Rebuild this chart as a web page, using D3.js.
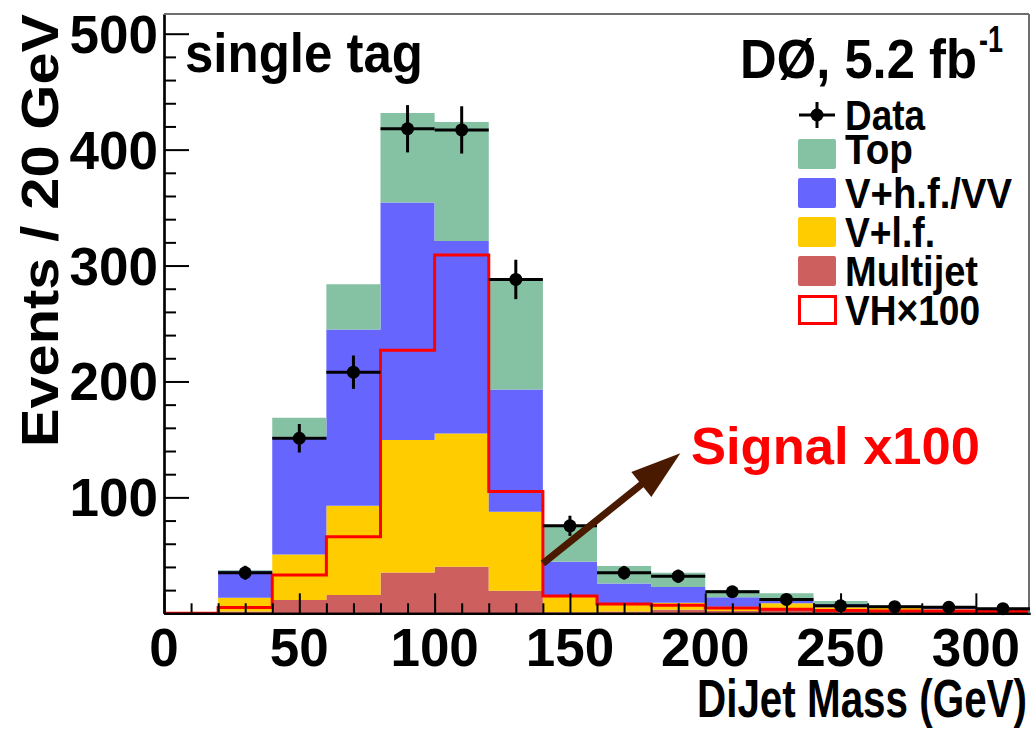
<!DOCTYPE html>
<html>
<head>
<meta charset="utf-8">
<script src="https://cdn.jsdelivr.net/npm/d3@7"></script>
<style>
  body { margin: 0; background: #fff; }
  svg { display: block; }
  text { font-family: "Liberation Sans", Arial, Helvetica, sans-serif; font-weight: bold; fill: #000; }
</style>
</head>
<body>
<svg id="chart" width="1032" height="729"></svg>
<script>
// Di-jet mass, single tag sample, 20 GeV bins (lower edges)
const binStart = [0, 20, 40, 60, 80, 100, 120, 140, 160, 180, 200, 220, 240, 260, 280, 300];
const binWidth = 20;

// Background expectations per bin (events)
const multijet = [0, 1.5, 11.5, 15.8, 35.3, 40.2, 19.5, 1.0, 1.5, 3.0, 2.0, 3.0, 2.0, 2.5, 3.4, 2.8];
const vlf      = [0, 11.9, 39.3, 77.0, 114.1, 115.0, 68.1, 13.3, 6.0, 6.0, 3.7, 5.6, 3.2, 2.7, 0.4, 0.7];
const vhf      = [0, 23.2, 101.4, 152.0, 204.9, 166.0, 105.5, 30.2, 18.3, 13.7, 8.1, 4.3, 2.8, 1.1, 1.6, 0.8];
const topBkg   = [0, 0.7, 16.4, 39.1, 77.3, 102.6, 95.7, 31.6, 15.0, 12.3, 6.2, 4.3, 2.6, 0.6, 0.9, 0.5];

// Observed events and their uncertainties
const dataVals = [null, 35, 151, 208, 418, 417, 288, 75.5, 35, 32, 18.6, 12, 6.5, 5.7, 5.2, 4];
const dataErr  = [null, 6, 12.3, 14.4, 20.4, 20.4, 17, 8.7, 5.9, 5.7, 4.3, 3.5, 2.5, 2.4, 2.3, 2];

// VH signal scaled by 100
const signal100 = [0, 5, 33, 66, 227, 309, 105, 15, 8, 7, 4.5, 3.5, 2.5, 2, 1.8, 1.5];

const xMajor = [0, 50, 100, 150, 200, 250, 300];
const xMinor = [10, 20, 30, 40, 60, 70, 80, 90, 110, 120, 130, 140, 160, 170, 180, 190, 210, 220, 230, 240, 260, 270, 280, 290, 310];
const yMajor = [100, 200, 300, 400, 500];
const yMinor = [20, 40, 60, 80, 120, 140, 160, 180, 220, 240, 260, 280, 320, 340, 360, 380, 420, 440, 460, 480];

const legendItems = [
  { key: "data", label: "Data", width: 80 },
  { key: "top", label: "Top", width: 68, color: "#85c1a3" },
  { key: "vhf", label: "V+h.f./VV", width: 167, color: "#6666ff" },
  { key: "vlf", label: "V+l.f.", width: 90, color: "#ffcc00" },
  { key: "multijet", label: "Multijet", width: 133, color: "#cd5f5f" },
  { key: "signal", label: "VH\u00d7100", width: 135 }
];

const colors = { multijet: "#cd5f5f", vlf: "#ffcc00", vhf: "#6666ff", top: "#85c1a3" };
const signalColor = "#ff0000";
const arrowColor = "#4a1a00";

// Plot frame
const left = 164, right = 1030, topY = 14, bottom = 613.3;
const x = d3.scaleLinear().domain([0, 320]).range([left, right]);
const y = d3.scaleLinear().domain([0, 517]).range([bottom, topY]);

const svg = d3.select("#chart");

// Stacked backgrounds
const rows = binStart.map((s, i) => ({
  start: s, multijet: multijet[i], vlf: vlf[i], vhf: vhf[i], top: topBkg[i]
}));
const keys = ["multijet", "vlf", "vhf", "top"];
const stacked = d3.stack().keys(keys)(rows);

const area = d3.area()
  .curve(d3.curveStepAfter)
  .x(d => x(d.x))
  .y0(d => y(d.y0))
  .y1(d => y(d.y1));

const g = svg.append("g");
stacked.forEach(layer => {
  const pts = layer.map((d, i) => ({ x: binStart[i], y0: d[0], y1: d[1] }));
  const last = pts[pts.length - 1];
  pts.push({ x: last.x + binWidth, y0: last.y0, y1: last.y1 });
  g.append("path")
    .attr("d", area(pts))
    .attr("fill", colors[layer.key]);
});

// Signal outline
const sigPts = binStart.map((s, i) => [s, signal100[i]]);
sigPts.push([binStart[binStart.length - 1] + binWidth, signal100[signal100.length - 1]]);
g.append("path")
  .attr("d", d3.line().curve(d3.curveStepAfter).x(d => x(d[0])).y(d => y(d[1]))(sigPts))
  .attr("fill", "none")
  .attr("stroke", signalColor)
  .attr("stroke-width", 3);

// Axes
const axisG = svg.append("g");
const yAxisMajor = d3.axisLeft(y).tickValues(yMajor).tickSizeInner(-25).tickSizeOuter(0).tickFormat("");
const yAxisMinor = d3.axisLeft(y).tickValues(yMinor).tickSizeInner(-12).tickSizeOuter(0).tickFormat("");
const xAxisMajor = d3.axisBottom(x).tickValues(xMajor).tickSizeInner(-20).tickSizeOuter(0).tickFormat("");
const xAxisMinor = d3.axisBottom(x).tickValues(xMinor).tickSizeInner(-10).tickSizeOuter(0).tickFormat("");

[
  [yAxisMajor, `translate(${left},0)`],
  [yAxisMinor, `translate(${left},0)`],
  [xAxisMajor, `translate(0,${bottom})`],
  [xAxisMinor, `translate(0,${bottom})`]
].forEach(([ax, tr]) => {
  const a = axisG.append("g").attr("transform", tr).call(ax);
  a.selectAll("path.domain").attr("stroke", "#000").attr("stroke-width", 2.2);
  a.selectAll(".tick line").attr("stroke", "#000").attr("stroke-width", 2);
});

// Frame top and right
axisG.append("line").attr("x1", left).attr("x2", right - 1).attr("y1", topY).attr("y2", topY)
  .attr("stroke", "#6e6e6e").attr("stroke-width", 2);
axisG.append("line").attr("x1", right - 1).attr("x2", right - 1).attr("y1", topY).attr("y2", bottom)
  .attr("stroke", "#6e6e6e").attr("stroke-width", 2);

// Tick labels
axisG.selectAll("text.ylab").data(yMajor).join("text")
  .attr("class", "ylab")
  .attr("x", 158).attr("y", d => y(d) + 19)
  .attr("text-anchor", "end")
  .attr("font-size", 53)
  .text(d => d);
axisG.selectAll("text.xlab").data(xMajor).join("text")
  .attr("class", "xlab")
  .attr("x", d => x(d)).attr("y", bottom + 53)
  .attr("text-anchor", "middle")
  .attr("font-size", 53)
  .text(d => d);

// Axis titles
svg.append("text")
  .attr("transform", "translate(58,14) rotate(-90)")
  .attr("text-anchor", "end")
  .attr("font-size", 52)
  .attr("textLength", 433).attr("lengthAdjust", "spacingAndGlyphs")
  .text("Events / 20 GeV");
svg.append("text")
  .attr("x", 1027).attr("y", 717)
  .attr("text-anchor", "end")
  .attr("font-size", 54)
  .attr("textLength", 330).attr("lengthAdjust", "spacingAndGlyphs")
  .text("DiJet Mass (GeV)");

// Observed data with error bars
const dataG = svg.append("g");
binStart.forEach((s, i) => {
  if (dataVals[i] == null) return;
  const cx = x(s + binWidth / 2);
  const cy = y(dataVals[i]);
  dataG.append("line").attr("x1", x(s)).attr("x2", x(s + binWidth)).attr("y1", cy).attr("y2", cy)
    .attr("stroke", "#000").attr("stroke-width", 3);
  dataG.append("line").attr("x1", cx).attr("x2", cx)
    .attr("y1", y(dataVals[i] - dataErr[i])).attr("y2", y(dataVals[i] + dataErr[i]))
    .attr("stroke", "#000").attr("stroke-width", 3);
  dataG.append("circle").attr("cx", cx).attr("cy", cy).attr("r", 6.5).attr("fill", "#000");
});

// Labels in the frame
svg.append("text").attr("x", 185).attr("y", 72).attr("font-size", 55)
  .attr("textLength", 238).attr("lengthAdjust", "spacingAndGlyphs").text("single tag");
svg.append("text").attr("x", 740).attr("y", 78).attr("font-size", 56)
  .attr("textLength", 237).attr("lengthAdjust", "spacingAndGlyphs").text("D\u00d8, 5.2 fb");
svg.append("text").attr("x", 979).attr("y", 52).attr("font-size", 36)
  .attr("textLength", 24).attr("lengthAdjust", "spacingAndGlyphs").text("-1");

// Legend
const legG = svg.append("g");
const legRowY = [115, 154, 193, 232, 271, 310];
legendItems.forEach((item, i) => {
  const cy = legRowY[i];
  if (item.key === "data") {
    legG.append("line").attr("x1", 799).attr("x2", 835).attr("y1", cy).attr("y2", cy)
      .attr("stroke", "#000").attr("stroke-width", 3);
    legG.append("line").attr("x1", 817).attr("x2", 817).attr("y1", cy - 13).attr("y2", cy + 13)
      .attr("stroke", "#000").attr("stroke-width", 3);
    legG.append("circle").attr("cx", 817).attr("cy", cy).attr("r", 6.5).attr("fill", "#000");
  } else if (item.key === "signal") {
    legG.append("rect").attr("x", 799.5).attr("y", cy - 13.5).attr("width", 36).attr("height", 27)
      .attr("fill", "#fff").attr("stroke", signalColor).attr("stroke-width", 3);
  } else {
    legG.append("rect").attr("x", 798).attr("y", cy - 15).attr("width", 38).attr("height", 30)
      .attr("rx", 2).attr("fill", item.color);
  }
  legG.append("text").attr("x", 845).attr("y", cy + (item.key === "top" ? 10 : 15))
    .attr("font-size", 42)
    .attr("textLength", item.width).attr("lengthAdjust", "spacingAndGlyphs")
    .text(item.label);
});

// Annotation arrow pointing to the signal label
const arrowFrom = [140, 43];
const arrowTo = [190.8, 138];
const p0 = [x(arrowFrom[0]), y(arrowFrom[1])];
const p1 = [x(arrowTo[0]), y(arrowTo[1])];
const dx = p1[0] - p0[0], dy = p1[1] - p0[1];
const len = Math.hypot(dx, dy);
const ux = dx / len, uy = dy / len;
const headLen = 50, headHalf = 16;
const base = [p1[0] - ux * headLen, p1[1] - uy * headLen];
svg.append("line")
  .attr("x1", p0[0]).attr("y1", p0[1])
  .attr("x2", base[0] + ux * 2).attr("y2", base[1] + uy * 2)
  .attr("stroke", arrowColor).attr("stroke-width", 7);
svg.append("path")
  .attr("d", `M${p1[0]},${p1[1]} L${base[0] - uy * headHalf},${base[1] + ux * headHalf} L${base[0] + uy * headHalf},${base[1] - ux * headHalf} Z`)
  .attr("fill", arrowColor);

svg.append("text").attr("x", 691).attr("y", 464).attr("font-size", 52)
  .attr("textLength", 289).attr("lengthAdjust", "spacingAndGlyphs")
  .style("fill", signalColor)
  .text("Signal x100");
</script>
</body>
</html>
